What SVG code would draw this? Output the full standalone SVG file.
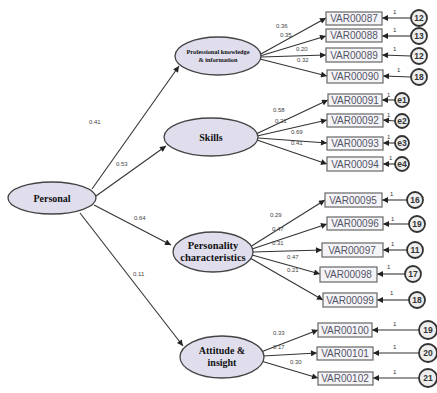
<svg xmlns="http://www.w3.org/2000/svg" width="437" height="393" viewBox="0 0 437 393">
<defs>
<marker id="ah" viewBox="0 0 10 10" refX="10" refY="5" markerWidth="8" markerHeight="6" orient="auto" markerUnits="userSpaceOnUse">
<path d="M0,0 L10,5 L0,10 z" fill="#222"/>
</marker>
<style>
.ln{stroke:#333;stroke-width:1.1;fill:none;marker-end:url(#ah)}
.lat{fill:#e0deed;stroke:#444;stroke-width:1.3}
.lt{font-family:"Liberation Serif",serif;font-weight:bold;fill:#111;text-anchor:middle}
.box{fill:#f4f4f8;stroke:#666;stroke-width:1.2}
.vt{font-family:"Liberation Sans",Arial,sans-serif;font-size:10px;fill:#556;text-anchor:middle}
.er{fill:#eee;stroke:#333;stroke-width:1.8}
.et{font-family:"Liberation Sans",Arial,sans-serif;font-size:8.5px;font-weight:bold;fill:#333;text-anchor:middle}
.cf{font-family:"Liberation Sans",Arial,sans-serif;font-size:6px;fill:#444}
.one{font-family:"Liberation Sans",Arial,sans-serif;font-size:6px;fill:#333}
</style>
</defs>

<g id="connectors">
<path class="ln" d="M92,189 L179,66"/>
<path class="ln" d="M96,196 L166,146"/>
<path class="ln" d="M94,205 L171,245"/>
<path class="ln" d="M80,213 L183,346"/>

<path class="ln" d="M259,55 L326,18"/>
<path class="ln" d="M260,56 L326,36"/>
<path class="ln" d="M261,57 L326,55"/>
<path class="ln" d="M260,59 L327,76"/>

<path class="ln" d="M256,134 L328,100"/>
<path class="ln" d="M257,136 L327,120"/>
<path class="ln" d="M258,138 L327,143"/>
<path class="ln" d="M257,140 L327,164"/>

<path class="ln" d="M250,247 L325,200"/>
<path class="ln" d="M252,249 L327,224"/>
<path class="ln" d="M253,252 L322,250"/>
<path class="ln" d="M252,255 L320,274"/>
<path class="ln" d="M250,258 L323,300"/>

<path class="ln" d="M261,352 L318,330"/>
<path class="ln" d="M263,356 L317,353"/>
<path class="ln" d="M261,361 L318,378"/>

<path class="ln" d="M411,18 L382,18"/>
<path class="ln" d="M411,36 L382,36"/>
<path class="ln" d="M411,56 L382,55"/>
<path class="ln" d="M411,77 L383,76"/>
<path class="ln" d="M395,100 L382,100"/>
<path class="ln" d="M395,121 L383,120"/>
<path class="ln" d="M395,143 L383,143"/>
<path class="ln" d="M395,164 L383,164"/>
<path class="ln" d="M407,200 L382,200"/>
<path class="ln" d="M409,224 L383,224"/>
<path class="ln" d="M407,250 L383,250"/>
<path class="ln" d="M405,274 L377,274"/>
<path class="ln" d="M409,300 L377,300"/>
<path class="ln" d="M419,330 L372,330"/>
<path class="ln" d="M419,353 L373,353"/>
<path class="ln" d="M419,378 L373,378"/>

<text class="cf" x="89" y="124">0.41</text>
<text class="cf" x="116" y="166">0.53</text>
<text class="cf" x="134" y="220">0.64</text>
<text class="cf" x="133" y="276">0.11</text>

<text class="cf" x="276" y="28">0.36</text>
<text class="cf" x="280" y="37">0.35</text>
<text class="cf" x="296" y="51">0.20</text>
<text class="cf" x="297" y="62">0.32</text>

<text class="cf" x="273" y="112">0.58</text>
<text class="cf" x="275" y="123">0.21</text>
<text class="cf" x="291" y="134">0.69</text>
<text class="cf" x="291" y="145">0.41</text>

<text class="cf" x="270" y="217">0.29</text>
<text class="cf" x="272" y="231">0.47</text>
<text class="cf" x="272" y="245">0.31</text>
<text class="cf" x="287" y="259">0.47</text>
<text class="cf" x="287" y="272">0.21</text>

<text class="cf" x="273" y="335">0.33</text>
<text class="cf" x="273" y="349">0.17</text>
<text class="cf" x="290" y="364">0.30</text>

<text class="one" x="393" y="14">1</text>
<text class="one" x="393" y="32">1</text>
<text class="one" x="393" y="51">1</text>
<text class="one" x="397" y="72">1</text>
<text class="one" x="387" y="97">1</text>
<text class="one" x="387" y="117">1</text>
<text class="one" x="387" y="139">1</text>
<text class="one" x="389" y="160">1</text>
<text class="one" x="390" y="196">1</text>
<text class="one" x="391" y="221">1</text>
<text class="one" x="391" y="246">1</text>
<text class="one" x="387" y="269">1</text>
<text class="one" x="390" y="295">1</text>
<text class="one" x="393" y="326">1</text>
<text class="one" x="393" y="349">1</text>
<text class="one" x="393" y="374">1</text>
</g>

<g id="personal"><ellipse class="lat" cx="52" cy="198" rx="44" ry="16"/><text class="lt" x="52" y="202" font-size="10">Personal</text></g>
<g id="professional"><ellipse class="lat" cx="218" cy="56" rx="43" ry="19"/><text class="lt" x="218" y="54" font-size="6.3">Professional knowledge</text><text class="lt" x="218" y="62" font-size="6.3">&amp; information</text></g>
<g id="skills"><ellipse class="lat" cx="211" cy="137" rx="47" ry="19"/><text class="lt" x="211" y="141" font-size="10">Skills</text></g>
<g id="personality"><ellipse class="lat" cx="213" cy="252" rx="40" ry="20"/><text class="lt" x="213" y="249" font-size="10.5">Personality</text><text class="lt" x="213" y="261" font-size="10.5">characteristics</text></g>
<g id="attitude"><ellipse class="lat" cx="222" cy="357" rx="42" ry="21"/><text class="lt" x="222" y="354" font-size="10">Attitude &amp;</text><text class="lt" x="222" y="366" font-size="10">insight</text></g>

<g id="v87"><rect class="box" x="326" y="12" width="56" height="13"/><text class="vt" x="354" y="22">VAR00087</text></g>
<g id="v88"><rect class="box" x="326" y="29" width="56" height="13"/><text class="vt" x="354" y="39">VAR00088</text></g>
<g id="v89"><rect class="box" x="326" y="48" width="56" height="14"/><text class="vt" x="354" y="58.5">VAR00089</text></g>
<g id="v90"><rect class="box" x="327" y="70" width="56" height="13"/><text class="vt" x="355" y="80">VAR00090</text></g>
<g id="v91"><rect class="box" x="328" y="94" width="54" height="12"/><text class="vt" x="355" y="103.5">VAR00091</text></g>
<g id="v92"><rect class="box" x="327" y="114" width="56" height="13"/><text class="vt" x="355" y="124">VAR00092</text></g>
<g id="v93"><rect class="box" x="327" y="137" width="56" height="13"/><text class="vt" x="355" y="147">VAR00093</text></g>
<g id="v94"><rect class="box" x="327" y="157" width="56" height="14"/><text class="vt" x="355" y="167.5">VAR00094</text></g>
<g id="v95"><rect class="box" x="325" y="193" width="57" height="14"/><text class="vt" x="353" y="203.5">VAR00095</text></g>
<g id="v96"><rect class="box" x="327" y="217" width="56" height="13"/><text class="vt" x="355" y="227">VAR00096</text></g>
<g id="v97"><rect class="box" x="322" y="243" width="61" height="14"/><text class="vt" x="352" y="253.5">VAR00097</text></g>
<g id="v98"><rect class="box" x="320" y="267" width="57" height="15"/><text class="vt" x="348" y="278">VAR00098</text></g>
<g id="v99"><rect class="box" x="323" y="293" width="54" height="14"/><text class="vt" x="350" y="303.5">VAR00099</text></g>
<g id="v100"><rect class="box" x="318" y="323" width="54" height="14"/><text class="vt" x="345" y="333.5">VAR00100</text></g>
<g id="v101"><rect class="box" x="317" y="347" width="56" height="13"/><text class="vt" x="345" y="357">VAR00101</text></g>
<g id="v102"><rect class="box" x="318" y="372" width="55" height="13"/><text class="vt" x="345" y="382">VAR00102</text></g>

<g id="e87"><circle class="er" cx="419" cy="18" r="8"/><text class="et" x="419" y="21">12</text></g>
<g id="e88"><circle class="er" cx="419" cy="36" r="8"/><text class="et" x="419" y="39">13</text></g>
<g id="e89"><circle class="er" cx="419" cy="56" r="8"/><text class="et" x="419" y="59">12</text></g>
<g id="e90"><circle class="er" cx="419" cy="77" r="8"/><text class="et" x="419" y="80">18</text></g>
<g id="e91"><circle class="er" cx="402" cy="100" r="7"/><text class="et" x="402" y="103">e1</text></g>
<g id="e92"><circle class="er" cx="402" cy="121" r="7"/><text class="et" x="402" y="124">e2</text></g>
<g id="e93"><circle class="er" cx="402" cy="143" r="7"/><text class="et" x="402" y="146">e3</text></g>
<g id="e94"><circle class="er" cx="402" cy="164" r="7"/><text class="et" x="402" y="167">e4</text></g>
<g id="e95"><circle class="er" cx="415" cy="200" r="8"/><text class="et" x="415" y="203">16</text></g>
<g id="e96"><circle class="er" cx="417" cy="224" r="8"/><text class="et" x="417" y="227">19</text></g>
<g id="e97"><circle class="er" cx="415" cy="250" r="8"/><text class="et" x="415" y="253">11</text></g>
<g id="e98"><circle class="er" cx="413" cy="274" r="8"/><text class="et" x="413" y="277">17</text></g>
<g id="e99"><circle class="er" cx="417" cy="300" r="8"/><text class="et" x="417" y="303">18</text></g>
<g id="e100"><circle class="er" cx="428" cy="330" r="9"/><text class="et" x="428" y="333">19</text></g>
<g id="e101"><circle class="er" cx="428" cy="353" r="9"/><text class="et" x="428" y="356">20</text></g>
<g id="e102"><circle class="er" cx="428" cy="378" r="9"/><text class="et" x="428" y="381">21</text></g>
</svg>
